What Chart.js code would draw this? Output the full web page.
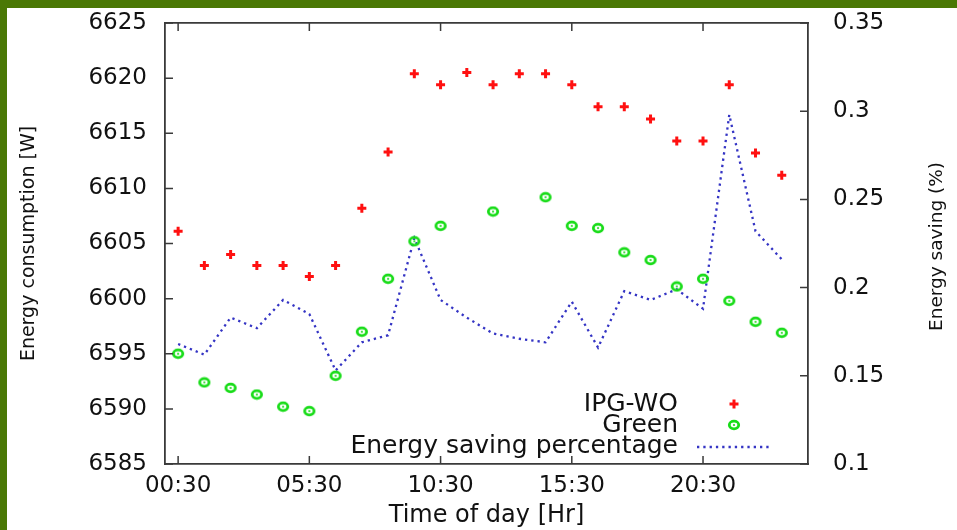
<!DOCTYPE html>
<html>
<head>
<meta charset="utf-8">
<script src="https://cdn.jsdelivr.net/npm/chart.js@4.4.0/dist/chart.umd.min.js"></script>
<style>
  html, body { margin: 0; padding: 0; }
  body { width: 957px; height: 530px; background: #4a7805; overflow: hidden; position: relative; }
  #wrap { position: absolute; left: 7px; top: 8px; width: 950px; height: 522px; background: #fff; }
</style>
</head>
<body>
<div id="wrap"><canvas id="energyChart" width="950" height="522"></canvas></div>
<script>
// time of day for each measurement
const times = ['00:30','01:30','02:30','03:30','04:30','05:30','06:30','07:30','08:30','09:30','10:30','11:30',
               '12:30','13:30','14:30','15:30','16:30','17:30','18:30','19:30','20:30','21:30','22:30','23:30'];
// energy consumption [W]
const ipgWo = [6606.1, 6603.0, 6604.0, 6603.0, 6603.0, 6602.0, 6603.0, 6608.2, 6613.3, 6620.4, 6619.4, 6620.5,
               6619.4, 6620.4, 6620.4, 6619.4, 6617.4, 6617.4, 6616.3, 6614.3, 6614.3, 6619.4, 6613.2, 6611.2];
const green = [6595.0, 6592.4, 6591.9, 6591.3, 6590.2, 6589.8, 6593.0, 6597.0, 6601.8, 6605.2, 6606.6, null,
               6607.9, null, 6609.2, 6606.6, 6606.4, 6604.2, 6603.5, 6601.1, 6601.8, 6599.8, 6597.9, 6596.9];
// energy saving (right axis)
const savingPct = [0.168, 0.162, 0.183, 0.177, 0.193, 0.185, 0.153, 0.169, 0.173, 0.228, 0.193, 0.183,
                   0.174, 0.171, 0.169, 0.192, 0.166, 0.198, 0.193, 0.199, 0.188, 0.298, 0.232, 0.216];
// x axis tick labels
const xTickLabels = ['00:30', '05:30', '10:30', '15:30', '20:30'];

const FONT = 'DejaVu Sans';
const AXIS_COLOR = '#3a3a3a';

function toHours(t) {
    const p = t.split(':');
    return parseInt(p[0]) + parseInt(p[1]) / 60;
}
const xTickValues = xTickLabels.map(toHours);

function points(values) {
    return times.map((t, i) => ({ x: toHours(t), y: values[i] }));
}

// circle-with-dot marker, like gnuplot's point type
function makeDotCircle() {
    const c = document.createElement('canvas');
    c.width = 14; c.height = 12;
    const g = c.getContext('2d');
    g.strokeStyle = '#18dc18';
    g.fillStyle = '#18dc18';
    g.lineWidth = 2.8;
    g.beginPath();
    g.ellipse(7, 6, 4.7, 3.8, 0, 0, Math.PI * 2);
    g.stroke();
    g.beginPath();
    g.arc(7, 6, 1.1, 0, Math.PI * 2);
    g.fill();
    return c;
}
const dotCircle = makeDotCircle();

// ticks pointing inside the plot, gnuplot style
const innerTicks = {
    id: 'innerTicks',
    afterDatasetsDraw(chart) {
        const ctx = chart.ctx;
        const a = chart.chartArea;
        const len = 8;
        ctx.save();
        ctx.strokeStyle = AXIS_COLOR;
        ctx.lineWidth = 1.5;
        ctx.beginPath();
        ['x', 'x2'].forEach(id => {
            const s = chart.scales[id];
            s.ticks.forEach(t => {
                const px = s.getPixelForValue(t.value);
                if (id === 'x') { ctx.moveTo(px, a.bottom); ctx.lineTo(px, a.bottom - len); }
                else { ctx.moveTo(px, a.top); ctx.lineTo(px, a.top + len); }
            });
        });
        ['y', 'y2'].forEach(id => {
            const s = chart.scales[id];
            s.ticks.forEach(t => {
                const py = s.getPixelForValue(t.value);
                if (id === 'y') { ctx.moveTo(a.left, py); ctx.lineTo(a.left + len, py); }
                else { ctx.moveTo(a.right, py); ctx.lineTo(a.right - len, py); }
            });
        });
        ctx.stroke();
        ctx.restore();
    }
};

// right axis title (reads bottom to top) + legend in the lower right corner
const extras = {
    id: 'extras',
    afterDraw(chart) {
        const ctx = chart.ctx;
        const a = chart.chartArea;
        ctx.save();
        ctx.fillStyle = '#111';
        ctx.font = '18.5px "' + FONT + '"';
        ctx.textAlign = 'center';
        ctx.textBaseline = 'middle';
        ctx.translate(930, (a.top + a.bottom) / 2 + 3);
        ctx.rotate(-Math.PI / 2);
        ctx.fillText('Energy saving (%)', 0, 0);
        ctx.restore();

        const ds = chart.data.datasets;
        const rows = [a.bottom - 60, a.bottom - 39, a.bottom - 18];
        const textRight = a.right - 130;
        const markX = a.right - 74;
        ctx.save();
        ctx.font = '25px "' + FONT + '"';
        ctx.fillStyle = '#111';
        ctx.textAlign = 'right';
        ctx.textBaseline = 'middle';
        ds.forEach((d, i) => ctx.fillText(d.label, textRight, rows[i]));
        // IPG-WO sample
        ctx.strokeStyle = ds[0].borderColor;
        ctx.lineWidth = ds[0].borderWidth;
        ctx.beginPath();
        ctx.moveTo(markX - 4.5, rows[0]); ctx.lineTo(markX + 4.5, rows[0]);
        ctx.moveTo(markX, rows[0] - 4.5); ctx.lineTo(markX, rows[0] + 4.5);
        ctx.stroke();
        // Green sample
        ctx.drawImage(dotCircle, markX - dotCircle.width / 2, rows[1] - dotCircle.height / 2);
        // saving line sample
        ctx.strokeStyle = ds[2].borderColor;
        ctx.lineWidth = ds[2].borderWidth;
        ctx.setLineDash(ds[2].borderDash);
        ctx.beginPath();
        ctx.moveTo(a.right - 111, rows[2] + 1);
        ctx.lineTo(a.right - 37, rows[2] + 1);
        ctx.stroke();
        ctx.restore();
    }
};

// invisible outer tick marks give the label gap without adding vertical padding
function gapGrid(len) {
    return { display: true, drawOnChartArea: false, drawTicks: true, tickLength: len, tickColor: 'rgba(0,0,0,0)' };
}

const ctx = document.getElementById('energyChart').getContext('2d');
new Chart(ctx, {
    type: 'scatter',
    data: {
        datasets: [{
            label: 'IPG-WO',
            data: points(ipgWo),
            yAxisID: 'y',
            pointStyle: 'cross',
            pointRadius: 4.5,
            borderColor: '#ff1010',
            backgroundColor: '#ff1010',
            borderWidth: 3,
            showLine: false
        }, {
            label: 'Green',
            data: points(green),
            yAxisID: 'y',
            pointStyle: dotCircle,
            pointRadius: 5,
            showLine: false
        }, {
            label: 'Energy saving percentage',
            data: points(savingPct),
            yAxisID: 'y2',
            showLine: true,
            pointRadius: 0,
            borderColor: '#3434c4',
            borderWidth: 2.3,
            borderDash: [2.3, 4],
            tension: 0,
            fill: false
        }]
    },
    options: {
        responsive: false,
        animation: false,
        devicePixelRatio: 1,
        layout: { padding: 0, autoPadding: false },
        plugins: {
            legend: { display: false },
            tooltip: { enabled: false }
        },
        scales: {
            x: {
                type: 'linear',
                position: 'bottom',
                min: 0,
                max: 24.5,
                afterBuildTicks: (scale) => { scale.ticks = xTickValues.map(v => ({ value: v })); },
                afterFit: (scale) => { scale.height = 66; },
                ticks: {
                    color: '#111',
                    padding: 0,
                    font: { family: FONT, size: 23 },
                    maxRotation: 0,
                    autoSkip: false,
                    callback: (v, i) => xTickLabels[i]
                },
                grid: gapGrid(8),
                border: { color: AXIS_COLOR, width: 1.8 },
                title: {
                    display: true,
                    text: 'Time of day [Hr]',
                    color: '#111',
                    font: { family: FONT, size: 24, lineHeight: 1 },
                    padding: { top: 0, bottom: 2 }
                }
            },
            x2: {
                type: 'linear',
                position: 'top',
                min: 0,
                max: 24.5,
                afterBuildTicks: (scale) => { scale.ticks = xTickValues.map(v => ({ value: v })); },
                afterFit: (scale) => { scale.height = 15; },
                ticks: { display: false },
                grid: { display: true, drawOnChartArea: false, drawTicks: false },
                border: { color: AXIS_COLOR, width: 1.8 }
            },
            y: {
                type: 'linear',
                position: 'left',
                min: 6585,
                max: 6625,
                afterFit: (scale) => { scale.width = 158; },
                ticks: {
                    stepSize: 5,
                    color: '#111',
                    padding: 0,
                    font: { family: FONT, size: 23 },
                    callback: (v) => String(v)
                },
                grid: gapGrid(18),
                border: { color: AXIS_COLOR, width: 1.8 },
                title: {
                    display: true,
                    text: 'Energy consumption [W]',
                    color: '#111',
                    font: { family: FONT, size: 19, lineHeight: 1 },
                    padding: { top: 13, bottom: 0 }
                }
            },
            y2: {
                type: 'linear',
                position: 'right',
                min: 0.1,
                max: 0.35,
                afterFit: (scale) => { scale.width = 149; },
                ticks: {
                    stepSize: 0.05,
                    color: '#111',
                    padding: 0,
                    font: { family: FONT, size: 23 },
                    callback: (v) => String(parseFloat(v.toFixed(2)))
                },
                grid: gapGrid(25),
                border: { color: AXIS_COLOR, width: 1.8 }
            }
        }
    },
    plugins: [innerTicks, extras]
});
</script>
</body>
</html>
